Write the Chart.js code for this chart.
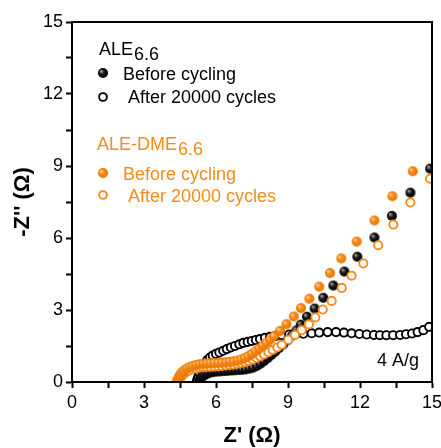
<!DOCTYPE html>
<html>
<head>
<meta charset="utf-8">
<script src="https://cdn.jsdelivr.net/npm/chart.js@4"></script>
<style>
  html, body { margin: 0; padding: 0; background: #fff; }
  #wrap { width: 441px; height: 448px; }
</style>
</head>
<body>
<div id="wrap"><canvas id="c" width="441" height="448"></canvas></div>
<script>
// ===============================
// Data
// ===============================
const aleBeforeX = [5.3, 5.33, 5.38, 5.45, 5.53, 5.62, 5.72, 5.83, 5.95, 6.08, 6.22, 6.36, 6.5, 6.65, 6.8, 6.95, 7.1, 7.25, 7.4, 7.55, 7.7, 7.85, 8.0, 8.15, 8.3, 8.46, 8.62, 8.8, 8.98, 9.16, 9.35, 9.53, 9.79, 10.11, 10.47, 10.89, 11.35, 11.89, 12.6, 13.33, 14.1, 14.92];
const aleBeforeY = [0.02, 0.1, 0.17, 0.24, 0.3, 0.34, 0.38, 0.41, 0.43, 0.44, 0.45, 0.46, 0.47, 0.48, 0.49, 0.5, 0.51, 0.53, 0.56, 0.6, 0.67, 0.76, 0.87, 0.99, 1.12, 1.26, 1.41, 1.57, 1.74, 1.93, 2.15, 2.39, 2.72, 3.06, 3.51, 4.02, 4.6, 5.22, 6.02, 6.92, 7.89, 8.89];

const aleAfterX = [5.2, 5.23, 5.27, 5.32, 5.38, 5.45, 5.54, 5.64, 5.75, 5.86, 6.0, 6.14, 6.3, 6.45, 6.62, 6.79, 6.97, 7.14, 7.32, 7.49, 7.66, 7.83, 8.04, 8.25, 8.5, 8.75, 9.05, 9.33, 9.64, 9.99, 10.3, 10.65, 11.0, 11.33, 11.65, 11.97, 12.28, 12.58, 12.83, 13.1, 13.38, 13.67, 13.92, 14.17, 14.4, 14.64, 14.88];
const aleAfterY = [0.02, 0.12, 0.24, 0.37, 0.5, 0.63, 0.77, 0.92, 1.02, 1.1, 1.17, 1.23, 1.3, 1.37, 1.44, 1.5, 1.57, 1.63, 1.67, 1.71, 1.75, 1.79, 1.84, 1.88, 1.92, 1.95, 1.98, 2.0, 2.01, 2.03, 2.06, 2.08, 2.08, 2.06, 2.03, 2.0, 1.98, 1.96, 1.95, 1.95, 1.95, 1.96, 1.99, 2.02, 2.08, 2.16, 2.3];

const dmeBeforeX = [4.38, 4.4, 4.45, 4.5, 4.58, 4.67, 4.78, 4.9, 5.03, 5.17, 5.32, 5.47, 5.62, 5.78, 5.94, 6.1, 6.26, 6.42, 6.58, 6.74, 6.9, 7.05, 7.2, 7.35, 7.5, 7.65, 7.8, 7.95, 8.1, 8.26, 8.42, 8.67, 8.94, 9.24, 9.54, 9.89, 10.3, 10.75, 11.22, 11.86, 12.6, 13.35, 14.2];
const dmeBeforeY = [0.02, 0.1, 0.2, 0.3, 0.4, 0.48, 0.56, 0.62, 0.67, 0.71, 0.74, 0.76, 0.77, 0.78, 0.79, 0.8, 0.81, 0.82, 0.84, 0.86, 0.89, 0.94, 1.0, 1.08, 1.17, 1.28, 1.4, 1.52, 1.64, 1.77, 1.91, 2.13, 2.41, 2.73, 3.08, 3.47, 3.97, 4.54, 5.15, 5.85, 6.73, 7.74, 8.78];

const dmeAfterX = [4.45, 4.47, 4.52, 4.58, 4.66, 4.76, 4.88, 5.01, 5.15, 5.3, 5.45, 5.6, 5.76, 5.92, 6.08, 6.24, 6.4, 6.56, 6.72, 6.88, 7.04, 7.2, 7.36, 7.52, 7.68, 7.84, 8.0, 8.18, 8.36, 8.55, 8.74, 9.01, 9.29, 9.57, 9.87, 10.14, 10.45, 10.82, 11.24, 11.65, 12.14, 12.76, 13.39, 14.1, 14.92];
const dmeAfterY = [0.02, 0.08, 0.17, 0.26, 0.34, 0.42, 0.48, 0.53, 0.57, 0.6, 0.62, 0.63, 0.64, 0.65, 0.66, 0.67, 0.69, 0.71, 0.73, 0.76, 0.79, 0.83, 0.88, 0.94, 1.0, 1.07, 1.15, 1.24, 1.34, 1.44, 1.55, 1.76, 1.96, 2.16, 2.4, 2.69, 3.02, 3.38, 3.92, 4.43, 4.94, 5.7, 6.56, 7.48, 8.47];

const axisMin = 0;
const axisMax = 15;
const labelStep = 3;
const minorStep = 1.5;

// ===============================
// Styles
// ===============================
const FONT = '"Liberation Sans", Arial, sans-serif';
const ORANGE = "#f88a17";

function toPoints(xs, ys) {
  return xs.map((x, i) => ({ x, y: ys[i] }));
}

// shaded ball used for the filled markers
function sphere(light, base, dark, r) {
  const s = Math.ceil(r * 2 + 2);
  const c = document.createElement("canvas");
  c.width = s;
  c.height = s;
  const g = c.getContext("2d");
  const cx = s / 2;
  const grad = g.createRadialGradient(cx - r * 0.4, cx - r * 0.4, r * 0.05, cx, cx, r);
  grad.addColorStop(0, light);
  grad.addColorStop(0.45, base);
  grad.addColorStop(1, dark);
  g.fillStyle = grad;
  g.beginPath();
  g.arc(cx, cx, r, 0, Math.PI * 2);
  g.fill();
  return c;
}

const blackBall = sphere("#b0b0b0", "#1a1a1a", "#000000", 5);
const orangeBall = sphere("#ffd3a3", "#f88a17", "#e87400", 5);

// ===============================
// Frame, legend and note
// ===============================
const extras = {
  id: "extras",
  afterDatasetsDraw(chart) {
    const { ctx, chartArea: a } = chart;
    ctx.save();
    ctx.strokeStyle = "#000";
    ctx.lineWidth = 2;
    ctx.strokeRect(a.left, a.top, a.right - a.left, a.bottom - a.top);

    ctx.font = "18px " + FONT;
    ctx.textBaseline = "alphabetic";
    ctx.textAlign = "left";

    const openMark = (x, y, color) => {
      ctx.beginPath();
      ctx.arc(x, y, 3.9, 0, Math.PI * 2);
      ctx.fillStyle = "#fff";
      ctx.fill();
      ctx.lineWidth = 1.9;
      ctx.strokeStyle = color;
      ctx.stroke();
    };
    const withSub = (main, sub, x, y, color) => {
      ctx.fillStyle = color;
      ctx.fillText(main, x, y);
      ctx.fillText(sub, x + ctx.measureText(main).width + 1, y + 5);
    };

    // ALE group
    withSub("ALE", "6.6", 99, 55, "#000");
    ctx.drawImage(blackBall, 103 - blackBall.width / 2, 73 - blackBall.height / 2);
    ctx.fillStyle = "#000";
    ctx.fillText("Before cycling", 123, 80);
    openMark(103, 97, "#000");
    ctx.fillStyle = "#000";
    ctx.fillText("After 20000 cycles", 128, 103);

    // ALE-DME group
    withSub("ALE-DME", "6.6", 97, 150, ORANGE);
    ctx.drawImage(orangeBall, 103 - orangeBall.width / 2, 173 - orangeBall.height / 2);
    ctx.fillStyle = ORANGE;
    ctx.fillText("Before cycling", 123, 180);
    openMark(103, 195, ORANGE);
    ctx.fillStyle = ORANGE;
    ctx.fillText("After 20000 cycles", 128, 202);

    // current density note
    ctx.fillStyle = "#000";
    ctx.fillText("4 A/g", 377, 366);
    ctx.restore();
  },
};

const tickLabel = (v) => (Math.abs(v % labelStep) < 1e-9 ? v : "");

const axisBase = {
  type: "linear",
  min: axisMin,
  max: axisMax,
  border: { display: true, color: "#000", width: 2 },
  grid: {
    drawOnChartArea: false,
    drawTicks: true,
    tickLength: 6,
    tickWidth: 2,
    tickColor: "#000",
    color: "#000",
  },
};

new Chart(document.getElementById("c"), {
  type: "scatter",
  data: {
    datasets: [
      {
        data: toPoints(dmeBeforeX, dmeBeforeY),
        pointStyle: orangeBall,
        clip: 0,
      },
      {
        data: toPoints(dmeAfterX, dmeAfterY),
        pointStyle: "circle",
        pointRadius: 4.1,
        pointBorderWidth: 1.9,
        pointBackgroundColor: "#fff",
        pointBorderColor: ORANGE,
        clip: 0,
      },
      {
        data: toPoints(aleBeforeX, aleBeforeY),
        pointStyle: blackBall,
        clip: 0,
      },
      {
        data: toPoints(aleAfterX, aleAfterY),
        pointStyle: "circle",
        pointRadius: 4.1,
        pointBorderWidth: 1.9,
        pointBackgroundColor: "#fff",
        pointBorderColor: "#000",
        clip: 0,
      },
    ],
  },
  options: {
    responsive: false,
    animation: false,
    events: [],
    layout: { padding: { top: 22, right: 9, left: 0, bottom: 0 } },
    plugins: { legend: { display: false }, tooltip: { enabled: false } },
    scales: {
      x: {
        ...axisBase,
        position: "bottom",
        ticks: {
          stepSize: minorStep,
          autoSkip: false,
          maxRotation: 0,
          padding: 4,
          color: "#000",
          font: { family: FONT, size: 18 },
          callback: tickLabel,
        },
        title: {
          display: true,
          text: "Z' (Ω)",
          color: "#000",
          font: { family: FONT, size: 22, weight: "bold", lineHeight: 1 },
          padding: { top: 0, bottom: 1 },
        },
        afterFit(scale) {
          scale.height = 66;
          scale.paddingLeft = 0;
          scale.paddingRight = 0;
        },
      },
      y: {
        ...axisBase,
        position: "left",
        ticks: {
          stepSize: minorStep,
          autoSkip: false,
          padding: 3,
          color: "#000",
          font: { family: FONT, size: 18 },
          callback: tickLabel,
        },
        title: {
          display: true,
          text: "-Z'' (Ω)",
          color: "#000",
          font: { family: FONT, size: 22, weight: "bold", lineHeight: 1 },
          padding: { top: 12, bottom: 0 },
        },
        afterFit(scale) {
          scale.width = 72;
          scale.paddingTop = 0;
          scale.paddingBottom = 0;
        },
      },
    },
  },
  plugins: [extras],
});
</script>
</body>
</html>
